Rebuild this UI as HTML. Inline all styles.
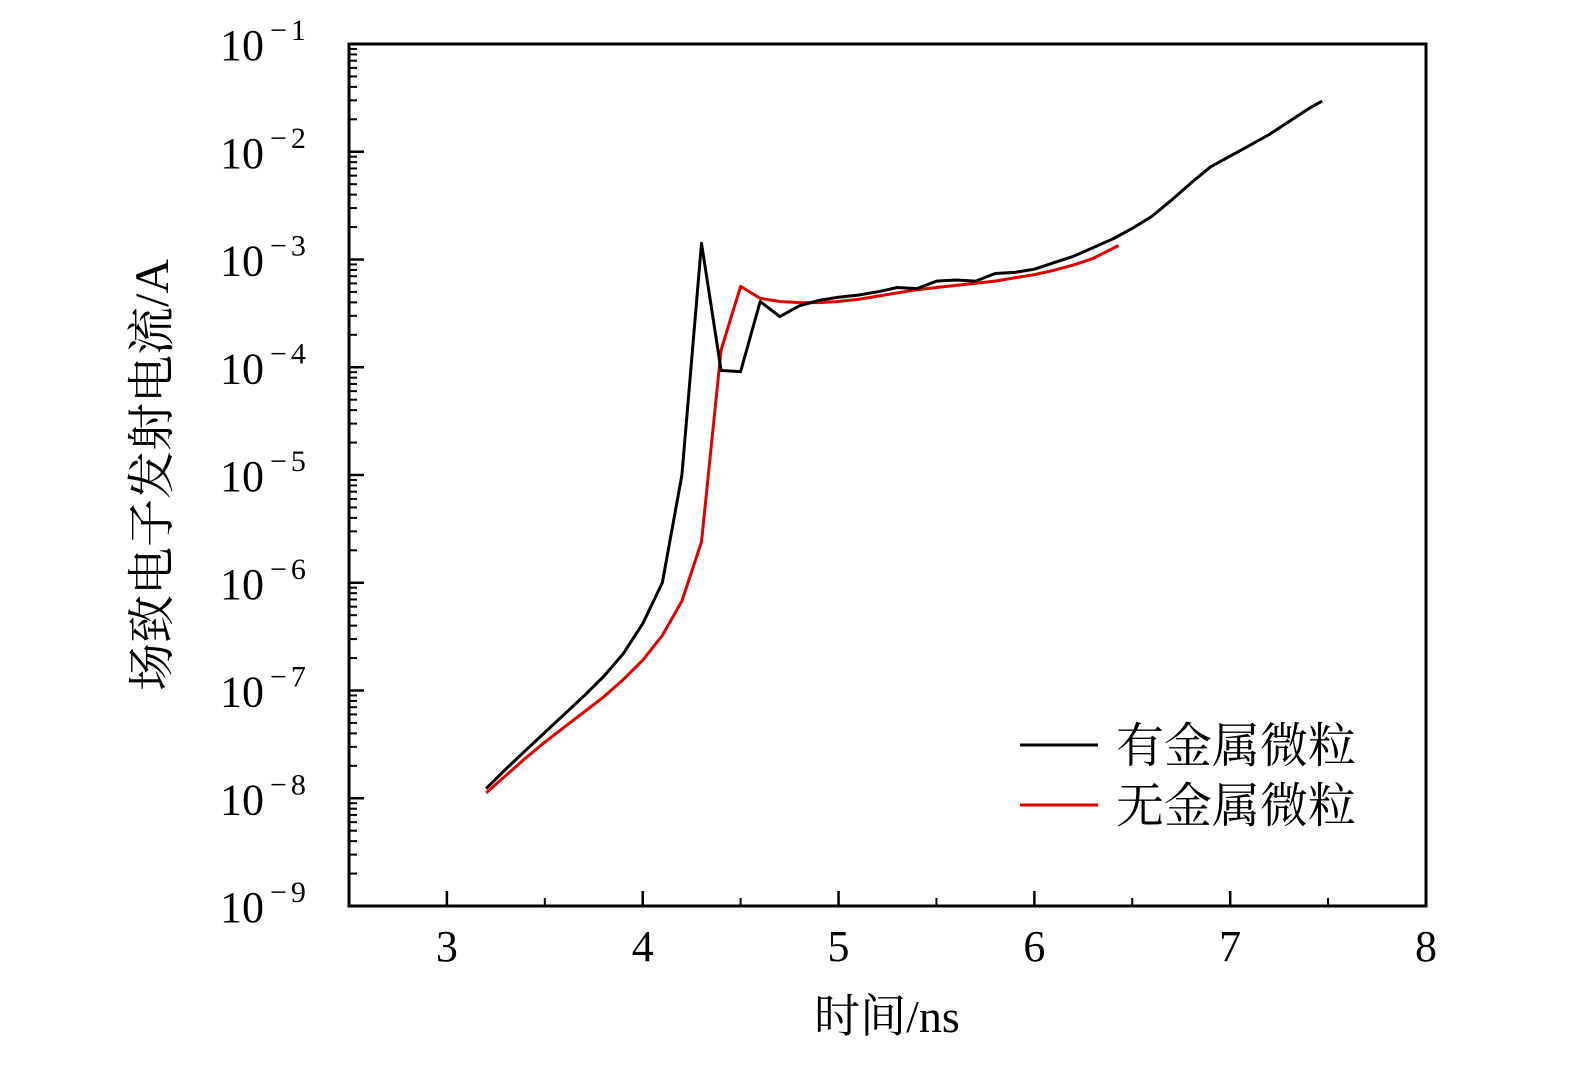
<!DOCTYPE html>
<html><head><meta charset="utf-8"><style>
body{margin:0;background:#fff;}
svg text{font-family:"Liberation Serif","Noto Serif CJK SC",serif;fill:#000;}
</style></head><body>
<svg id="chart" width="1575" height="1063" xmlns="http://www.w3.org/2000/svg">
<g id="ticks"></g>
<g id="series"></g>
<rect x="349" y="44" width="1077" height="862" fill="none" stroke="#000" stroke-width="3"/>
<text transform="translate(168,475) rotate(-90)" text-anchor="middle" font-size="48">场致电子发射电流/A</text>
<text x="887" y="1032" text-anchor="middle" font-size="46">时间/ns</text>
<g>
<line x1="1020" y1="745" x2="1098" y2="745" stroke="#000" stroke-width="3"/>
<text x="1116" y="762" font-size="48">有金属微粒</text>
<line x1="1020" y1="805" x2="1098" y2="805" stroke="#e00000" stroke-width="3"/>
<text x="1116" y="822" font-size="48">无金属微粒</text>
</g>
</svg>
<script>
const xTicks=[3,4,5,6,7,8];
const yTickExps=[-1,-2,-3,-4,-5,-6,-7,-8,-9];
const timeWith=[3.2,3.3,3.4,3.5,3.6,3.7,3.8,3.9,4.0,4.1,4.2,4.3,4.4,4.5,4.6,4.7,4.8,4.9,5.0,5.1,5.2,5.3,5.4,5.5,5.6,5.7,5.8,5.9,6.0,6.1,6.2,6.3,6.4,6.5,6.6,6.7,6.8,6.9,7.0,7.1,7.2,7.3,7.4,7.47];
const logCurrentWith=[-7.91,-7.73,-7.56,-7.39,-7.22,-7.05,-6.87,-6.66,-6.38,-6.0,-5.0,-2.85,-4.03,-4.04,-3.39,-3.53,-3.43,-3.38,-3.35,-3.33,-3.30,-3.26,-3.27,-3.20,-3.19,-3.20,-3.13,-3.12,-3.09,-3.03,-2.97,-2.89,-2.81,-2.71,-2.60,-2.45,-2.29,-2.14,-2.04,-1.94,-1.84,-1.72,-1.60,-1.53];
const timeWithout=[3.2,3.3,3.4,3.5,3.6,3.7,3.8,3.9,4.0,4.1,4.2,4.3,4.4,4.5,4.6,4.7,4.8,4.9,5.0,5.1,5.2,5.3,5.4,5.5,5.6,5.7,5.8,5.9,6.0,6.1,6.2,6.3,6.43];
const logCurrentWithout=[-7.95,-7.79,-7.63,-7.48,-7.34,-7.20,-7.06,-6.90,-6.72,-6.49,-6.17,-5.62,-3.84,-3.25,-3.36,-3.39,-3.40,-3.40,-3.39,-3.37,-3.34,-3.31,-3.28,-3.26,-3.24,-3.22,-3.20,-3.17,-3.14,-3.10,-3.05,-2.99,-2.87];
const NS="http://www.w3.org/2000/svg";
const X0=349,X1=1426,Y0=44,Y1=906;
const xs=t=>X0+(t-2.5)/(8-2.5)*(X1-X0);
const ys=e=>Y0+(-1-e)/8*(Y1-Y0);
const tg=document.getElementById('ticks');
function mk(tag,attrs,parent){const el=document.createElementNS(NS,tag);for(const k in attrs)el.setAttribute(k,attrs[k]);parent.appendChild(el);return el;}
xTicks.forEach(t=>{
  const l=mk('line',{x1:xs(t),x2:xs(t),y1:Y1,y2:Y1-15,stroke:'#000','stroke-width':2.5},tg);
  
  
  const tx=mk('text',{x:xs(t),y:Y1+55,'text-anchor':'middle','font-size':44},tg);
  
  
  tx.textContent=t;
  if(t<8){const m=mk('line',{x1:xs(t+0.5),x2:xs(t+0.5),y1:Y1,y2:Y1-8,stroke:'#000','stroke-width':2},tg);
  
  }
});
yTickExps.forEach(e=>{
  const y=ys(e);
  const l=mk('line',{x1:X0,x2:X0+15,y1:y,y2:y,stroke:'#000','stroke-width':2.5},tg);
  
  
  const tx=mk('text',{x:220,y:y+16,'font-size':44},tg);
  
  
  tx.innerHTML='10<tspan dx="6" dy="-20" font-size="30">−</tspan><tspan dx="4" font-size="30">'+(-e)+'</tspan>';
  if(e>-9){for(let k=2;k<10;k++){const yy=ys(e-1+Math.log10(k));
    const m=mk('line',{x1:X0,x2:X0+8,y1:yy,y2:yy,stroke:'#000','stroke-width':2},tg);
    
    }}
});
const sg=document.getElementById('series');
function line(ts,vs,color,name){
  const d=ts.map((t,i)=>(i?'L':'M')+xs(t).toFixed(1)+' '+ys(vs[i]).toFixed(1)).join(' ');
  const p=mk('path',{d:d,fill:'none',stroke:color,'stroke-width':3,'stroke-linejoin':'round'},sg);
  
  
}
line(timeWithout,logCurrentWithout,'#e00000','series-without-particles');
line(timeWith,logCurrentWith,'#000','series-with-particles');
</script>
</body></html>
